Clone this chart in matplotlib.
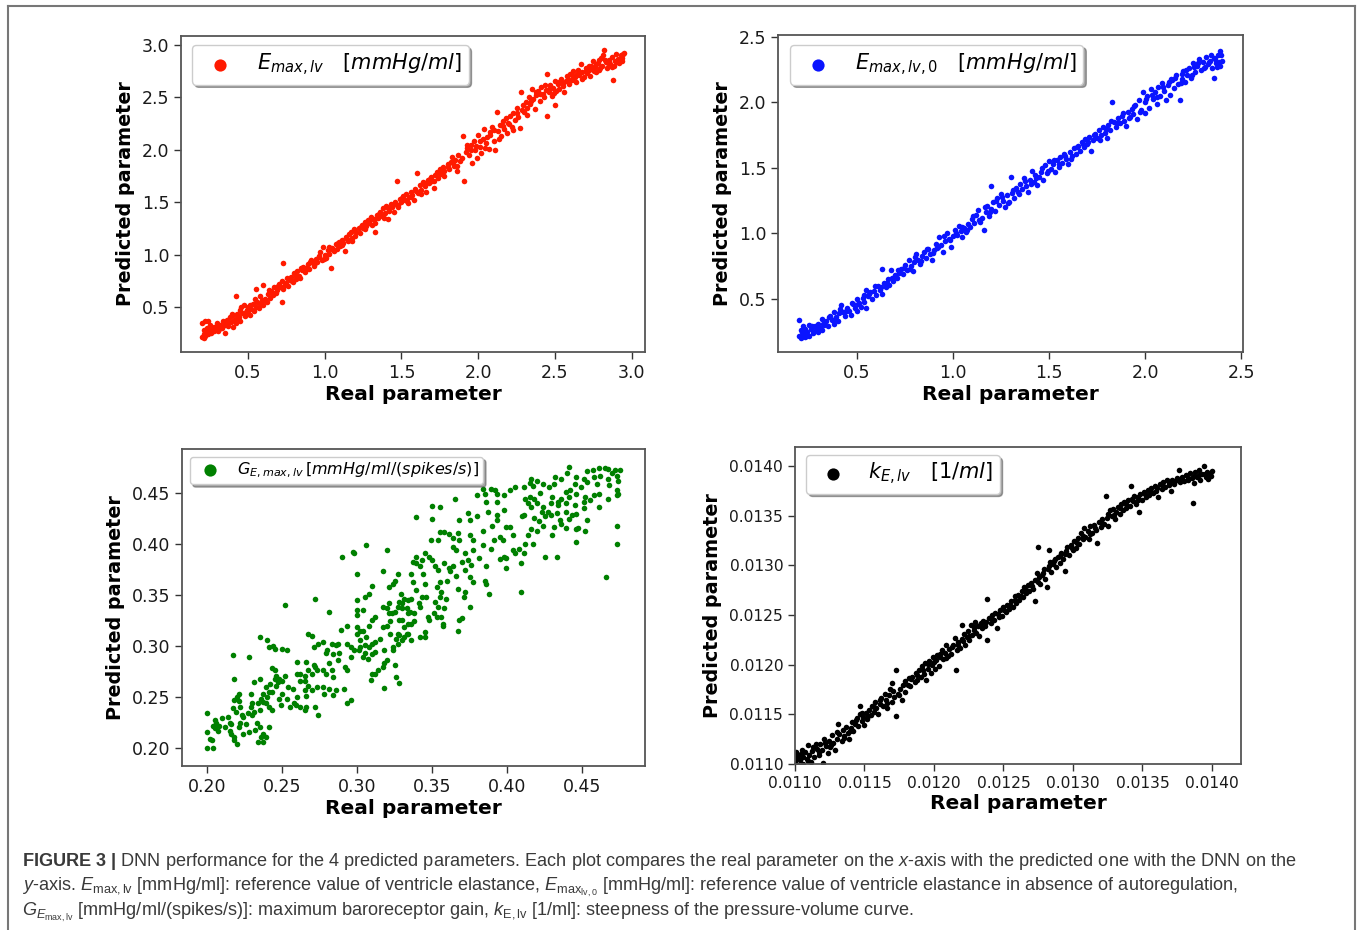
import matplotlib
matplotlib.use("Agg")
import matplotlib.pyplot as plt
from matplotlib.ticker import FormatStrFormatter, FixedLocator
from matplotlib.lines import Line2D

plt.rcParams['mathtext.rm'] = 'Liberation Sans'
plt.rcParams['mathtext.it'] = 'Liberation Sans:italic'
plt.rcParams['mathtext.bf'] = 'Liberation Sans:bold'

# ---------------- Panel 1: E_max,lv ----------------
emax_real = [
    0.20,0.20,0.21,0.21,0.22,0.22,0.23,0.23,0.24,0.24,
    0.25,0.25,0.26,0.27,0.28,0.29,0.30,0.31,0.32,0.33,
    0.34,0.35,0.35,0.36,0.37,0.38,0.39,0.40,0.40,0.41,
    0.42,0.42,0.43,0.44,0.45,0.45,0.46,0.47,0.48,0.49,
    0.50,0.50,0.51,0.52,0.53,0.54,0.55,0.55,0.56,0.57,
    0.58,0.59,0.60,0.60,0.61,0.62,0.63,0.64,0.65,0.66,
    0.67,0.68,0.69,0.70,0.71,0.72,0.72,0.73,0.73,0.74,
    0.75,0.76,0.77,0.78,0.79,0.80,0.81,0.82,0.83,0.84,
    0.85,0.86,0.87,0.88,0.89,0.90,0.91,0.92,0.93,0.94,
    0.95,0.96,0.97,0.98,0.99,1.00,1.01,1.02,1.03,1.04,
    1.05,1.06,1.07,1.08,1.09,1.10,1.11,1.12,1.13,1.14,
    1.15,1.16,1.17,1.18,1.19,1.20,1.22,1.23,1.24,1.25,
    1.26,1.27,1.28,1.29,1.30,1.31,1.32,1.33,1.34,1.35,
    1.36,1.37,1.38,1.39,1.40,1.41,1.42,1.43,1.44,1.45,
    1.46,1.47,1.48,1.49,1.50,1.51,1.52,1.53,1.54,1.55,
    1.56,1.57,1.58,1.59,1.60,1.61,1.62,1.63,1.64,1.65,
    1.66,1.67,1.68,1.69,1.70,1.71,1.72,1.73,1.74,1.75,
    1.76,1.77,1.78,1.80,1.81,1.82,1.83,1.84,1.85,1.86,
    1.87,1.88,1.90,1.91,1.92,1.93,1.94,1.95,1.96,1.97,
    1.98,1.99,2.00,2.01,2.02,2.03,2.04,2.05,2.06,2.07,
    2.08,2.09,2.10,2.11,2.12,2.13,2.14,2.15,2.16,2.17,
    2.18,2.19,2.20,2.21,2.22,2.23,2.24,2.25,2.26,2.27,
    2.28,2.29,2.30,2.31,2.32,2.33,2.34,2.35,2.36,2.37,
    2.38,2.39,2.40,2.41,2.42,2.43,2.44,2.45,2.45,2.46,
    2.47,2.48,2.49,2.50,2.50,2.51,2.52,2.53,2.54,2.55,
    2.56,2.57,2.58,2.59,2.60,2.61,2.62,2.63,2.64,2.65,
    2.66,2.67,2.68,2.69,2.70,2.71,2.72,2.73,2.74,2.75,
    2.76,2.77,2.78,2.79,2.80,2.81,2.82,2.83,2.84,2.85,
    2.86,2.87,2.88,2.89,2.90,2.91,2.92,2.93,2.94,2.95,
    0.215,0.245,0.275,0.305,0.335,0.365,0.395,0.425,0.455,0.485,
    0.515,0.545,0.575,0.605,0.635,0.665,0.695,0.725,0.755,0.785,
    0.815,0.845,0.875,0.905,0.935,0.965,0.995,1.025,1.055,1.085,
    1.115,1.145,1.175,1.205,1.235,1.265,1.295,1.325,1.355,1.385,
    1.415,1.445,1.475,1.505,1.535,1.565,1.595,1.625,1.655,1.685,
    1.715,1.745,1.775,1.805,1.835,1.865,1.895,1.925,1.955,1.985,
    2.015,2.045,2.075,2.105,2.135,2.165,2.195,2.225,2.255,2.285,
    2.315,2.345,2.375,2.405,2.435,2.465,2.495,2.525,2.555,2.585,
    2.615,2.645,2.675,2.705,2.735,2.765,2.795,2.825,2.855,2.885,
    2.915,2.935,2.945,2.905,2.875,2.845,2.815,2.785,2.755,2.725,
]
emax_pred = [
    0.21,0.35,0.24,0.28,0.22,0.37,0.26,0.30,0.24,0.37,
    0.27,0.33,0.25,0.29,0.27,0.31,0.35,0.29,0.33,0.30,
    0.36,0.25,0.33,0.38,0.32,0.40,0.36,0.31,0.42,0.38,
    0.60,0.35,0.43,0.40,0.37,0.47,0.44,0.52,0.41,0.47,
    0.50,0.44,0.42,0.48,0.53,0.46,0.67,0.50,0.55,0.49,
    0.53,0.57,0.71,0.52,0.58,0.55,0.62,0.59,0.65,0.61,
    0.69,0.63,0.66,0.72,0.69,0.55,0.75,0.92,0.67,0.71,
    0.73,0.70,0.76,0.79,0.74,0.82,0.77,0.84,0.80,0.78,
    0.85,0.88,0.83,0.87,0.91,0.86,0.95,0.92,0.89,0.96,
    0.93,0.98,1.02,0.95,1.07,1.00,0.97,1.04,1.01,0.87,
    1.06,1.03,1.10,1.05,1.12,1.08,1.14,1.11,1.03,1.17,
    1.13,1.20,1.22,1.16,1.24,1.18,1.25,1.21,1.28,1.25,
    1.31,1.27,1.33,1.30,1.36,1.28,1.34,1.22,1.38,1.35,
    1.41,1.37,1.44,1.40,1.46,1.34,1.42,1.48,1.45,1.41,
    1.50,1.70,1.47,1.53,1.50,1.56,1.52,1.58,1.49,1.55,
    1.60,1.57,1.52,1.63,1.78,1.59,1.66,1.62,1.69,1.65,
    1.60,1.71,1.68,1.74,1.70,1.64,1.76,1.79,1.73,1.82,
    1.77,1.84,1.80,1.86,1.82,1.88,1.93,1.85,1.90,1.80,
    1.95,1.89,2.13,1.70,1.98,2.02,1.95,2.05,1.87,2.08,
    2.00,1.92,2.14,2.03,1.97,2.10,2.20,2.06,2.12,2.01,
    2.17,2.22,2.08,2.00,2.36,2.18,2.24,2.13,2.27,2.20,
    2.30,2.16,2.25,2.32,2.22,2.35,2.28,2.40,2.31,2.21,
    2.55,2.43,2.36,2.46,2.40,2.50,2.44,2.58,2.48,2.39,
    2.52,2.56,2.47,2.60,2.53,2.50,2.57,2.32,2.72,2.55,
    2.62,2.51,2.59,2.66,2.43,2.56,2.63,2.58,2.68,2.61,
    2.55,2.66,2.70,2.63,2.72,2.67,2.75,2.69,2.65,2.76,
    2.71,2.82,2.74,2.69,2.78,2.73,2.80,2.70,2.77,2.85,
    2.79,2.74,2.83,2.76,2.88,2.80,2.95,2.84,2.78,2.86,
    2.82,2.89,2.67,2.85,2.91,2.87,2.83,2.90,2.88,2.92,
    0.20,0.29,0.31,0.27,0.37,0.35,0.43,0.39,0.50,0.45,
    0.52,0.58,0.60,0.57,0.66,0.63,0.70,0.69,0.78,0.75,
    0.80,0.87,0.86,0.93,0.92,0.99,0.96,1.07,1.04,1.11,
    1.09,1.15,1.13,1.22,1.26,1.24,1.33,1.30,1.39,1.35,
    1.44,1.47,1.45,1.54,1.51,1.55,1.61,1.58,1.68,1.72,
    1.70,1.78,1.75,1.84,1.87,1.85,1.92,2.05,2.00,2.04,
    2.08,2.02,2.14,2.19,2.10,2.23,2.26,2.19,2.35,2.38,
    2.33,2.47,2.55,2.53,2.62,2.59,2.54,2.65,2.64,2.68,
    2.70,2.72,2.68,2.75,2.80,2.82,2.78,2.86,2.84,2.80,
    2.86,2.85,2.91,2.84,2.79,2.83,2.90,2.86,2.75,2.76,
]

# ---------------- Panel 2: E_max,lv,0 ----------------
emax0_real = [
    0.20,0.20,0.21,0.21,0.22,0.22,0.23,0.23,0.24,0.25,
    0.25,0.26,0.27,0.28,0.29,0.30,0.30,0.31,0.32,0.32,
    0.33,0.34,0.35,0.36,0.37,0.38,0.38,0.39,0.40,0.41,
    0.42,0.43,0.44,0.45,0.46,0.47,0.48,0.49,0.50,0.50,
    0.51,0.52,0.53,0.54,0.55,0.55,0.56,0.57,0.58,0.59,
    0.60,0.61,0.62,0.63,0.63,0.64,0.65,0.66,0.67,0.68,
    0.69,0.70,0.71,0.72,0.73,0.74,0.75,0.76,0.77,0.78,
    0.79,0.80,0.81,0.82,0.83,0.84,0.85,0.86,0.87,0.88,
    0.89,0.90,0.91,0.92,0.93,0.94,0.95,0.96,0.97,0.98,
    0.99,1.00,1.01,1.02,1.03,1.04,1.05,1.06,1.07,1.08,
    1.09,1.10,1.11,1.12,1.13,1.14,1.15,1.16,1.17,1.18,
    1.19,1.20,1.20,1.21,1.22,1.23,1.24,1.25,1.26,1.27,
    1.28,1.29,1.30,1.31,1.32,1.33,1.34,1.35,1.36,1.37,
    1.38,1.39,1.40,1.41,1.42,1.43,1.44,1.45,1.46,1.47,
    1.48,1.49,1.50,1.51,1.52,1.53,1.54,1.55,1.56,1.57,
    1.58,1.59,1.60,1.61,1.62,1.63,1.64,1.65,1.66,1.67,
    1.68,1.69,1.70,1.71,1.72,1.73,1.74,1.75,1.76,1.77,
    1.78,1.79,1.80,1.81,1.82,1.83,1.84,1.85,1.86,1.87,
    1.88,1.89,1.90,1.91,1.92,1.93,1.94,1.95,1.96,1.97,
    1.98,1.99,2.00,2.00,2.01,2.02,2.03,2.04,2.05,2.06,
    2.07,2.08,2.09,2.10,2.11,2.12,2.13,2.14,2.15,2.16,
    2.17,2.18,2.19,2.20,2.21,2.22,2.23,2.24,2.25,2.26,
    2.27,2.28,2.29,2.30,2.31,2.32,2.33,2.34,2.35,2.36,
    2.36,2.37,2.38,2.39,2.39,2.40,
    0.215,0.235,0.265,0.295,0.325,0.355,0.385,0.415,0.445,0.475,
    0.505,0.535,0.565,0.595,0.625,0.655,0.685,0.715,0.745,0.775,
    0.805,0.835,0.865,0.895,0.925,0.955,0.985,1.015,1.045,1.075,
    1.105,1.135,1.165,1.195,1.225,1.255,1.285,1.315,1.345,1.375,
    1.405,1.435,1.465,1.495,1.525,1.555,1.585,1.615,1.645,1.675,
    1.705,1.735,1.765,1.795,1.825,1.855,1.885,1.915,1.945,1.975,
    2.005,2.035,2.065,2.095,2.125,2.155,2.185,2.215,2.245,2.275,
    2.305,2.335,2.365,2.385,2.395,2.375,2.345,2.255,2.195,2.135,
]
emax0_pred = [
    0.22,0.34,0.20,0.26,0.23,0.29,0.21,0.27,0.25,0.30,
    0.22,0.27,0.24,0.29,0.26,0.25,0.31,0.28,0.35,0.26,
    0.30,0.33,0.29,0.37,0.34,0.40,0.31,0.36,0.33,0.39,
    0.45,0.40,0.37,0.43,0.41,0.38,0.46,0.43,0.50,0.41,
    0.47,0.44,0.51,0.48,0.57,0.43,0.52,0.55,0.50,0.56,
    0.53,0.60,0.57,0.73,0.54,0.62,0.59,0.65,0.61,0.72,
    0.64,0.68,0.66,0.70,0.73,0.69,0.76,0.72,0.80,0.75,
    0.71,0.78,0.84,0.80,0.77,0.83,0.86,0.81,0.88,0.84,
    0.80,0.87,0.92,0.89,0.97,0.91,0.86,0.94,1.00,0.96,
    0.90,0.98,1.03,0.99,1.06,1.02,0.97,1.04,1.01,1.07,
    1.05,1.11,1.08,1.14,1.18,1.09,1.12,1.03,1.16,1.21,
    1.13,1.36,1.19,1.24,1.17,1.27,1.22,1.30,1.25,1.20,
    1.29,1.24,1.43,1.31,1.27,1.35,1.32,1.38,1.34,1.42,
    1.36,1.32,1.41,1.48,1.39,1.45,1.37,1.43,1.47,1.41,
    1.52,1.46,1.55,1.49,1.53,1.47,1.56,1.51,1.58,1.54,
    1.61,1.57,1.53,1.62,1.59,1.65,1.61,1.67,1.63,1.70,
    1.66,1.72,1.68,1.74,1.63,1.71,1.76,1.73,1.79,1.75,
    1.81,1.77,1.73,1.83,1.79,2.00,1.85,1.81,1.88,1.84,
    1.90,1.86,1.82,1.93,1.89,1.95,1.91,1.98,1.87,2.02,
    1.94,2.08,2.00,1.92,2.05,1.96,2.10,2.03,2.08,1.99,
    2.12,2.05,2.15,2.09,2.02,2.13,2.06,2.17,2.11,2.21,
    2.14,2.02,2.18,2.24,2.16,2.21,2.26,2.19,2.30,2.23,
    2.28,2.33,2.25,2.31,2.27,2.35,2.29,2.32,2.26,2.19,
    2.34,2.30,2.36,2.39,2.28,2.32,
    0.25,0.22,0.29,0.28,0.31,0.36,0.35,0.42,0.41,0.47,
    0.46,0.53,0.54,0.60,0.59,0.62,0.66,0.72,0.74,0.73,
    0.82,0.79,0.88,0.85,0.90,0.98,0.95,1.00,1.05,1.03,
    1.13,1.10,1.20,1.16,1.25,1.28,1.23,1.33,1.30,1.40,
    1.38,1.42,1.50,1.48,1.56,1.53,1.59,1.57,1.66,1.68,
    1.70,1.75,1.71,1.80,1.86,1.84,1.92,1.88,1.97,1.93,
    2.03,2.06,2.04,2.12,2.16,2.19,2.15,2.25,2.21,2.30,
    2.26,2.31,2.33,2.31,2.36,2.27,2.36,2.27,2.22,2.18,
]

# ---------------- Panel 3: G_E,max,lv ----------------
gain_real = [
    0.441,0.440,0.453,0.457,0.461,0.465,0.467,0.472,0.475,0.473,
    0.470,0.462,0.458,0.451,0.446,0.436,0.416,0.432,0.474,0.468,
    0.467,0.460,0.453,0.449,0.445,0.442,0.439,0.431,0.428,0.424,
    0.422,0.417,0.411,0.405,0.402,0.398,0.392,0.384,0.473,0.474,
    0.461,0.458,0.452,0.446,0.441,0.436,0.430,0.415,0.418,0.412,
    0.414,0.420,0.424,0.429,0.434,0.439,0.445,0.451,0.455,0.461,
    0.467,0.473,0.423,0.427,0.433,0.439,0.443,0.451,0.416,0.411,
    0.418,0.425,0.435,0.441,0.446,0.453,0.434,0.429,0.421,0.436,
    0.447,0.439,0.431,0.424,0.420,0.416,0.414,0.430,0.446,0.452,
    0.473,0.473,0.446,0.425,0.433,0.466,
    0.385,0.380,0.389,0.393,0.386,0.393,0.398,0.393,0.387,0.380,
    0.374,0.368,0.375,0.375,0.384,0.390,0.393,0.391,0.397,0.404,
    0.389,0.384,0.377,0.377,0.372,0.374,0.376,0.370,0.372,0.381,
    0.386,0.395,0.399,0.404,0.405,0.408,0.409,0.411,0.412,0.417,
    0.410,0.402,0.399,0.420,0.415,0.375,0.377,0.385,0.386,0.388,
    0.372,0.371,0.367,0.375,0.368,0.370,0.367,0.398,0.395,0.409,
    0.365,0.355,0.350,0.349,0.348,0.350,0.352,0.354,0.358,0.361,
    0.364,0.362,0.366,0.360,0.355,0.353,0.356,0.359,0.358,0.356,
    0.353,0.351,0.357,0.357,0.354,0.352,0.355,0.346,0.345,0.344,
    0.342,0.339,0.336,0.337,0.339,0.336,0.334,0.338,0.341,0.342,
    0.343,0.347,0.348,0.345,0.342,0.345,0.354,0.355,0.358,0.361,
    0.364,0.367,0.368,0.366,0.364,0.345,0.343,0.339,0.337,0.334,
    0.331,0.330,0.333,0.335,0.338,0.334,0.331,0.336,0.336,0.333,
    0.330,0.328,0.327,0.325,0.329,0.330,0.328,0.323,0.320,0.322,
    0.327,0.331,0.334,0.326,0.330,0.327,0.324,
    0.327,0.325,0.324,0.321,0.317,0.320,0.306,0.300,0.298,0.310,
    0.308,0.305,0.300,0.300,0.304,0.300,0.300,0.300,0.302,0.304,
    0.308,0.310,0.312,0.317,0.321,0.321,0.320,0.317,0.322,0.328,
    0.315,0.312,0.306,0.310,0.308,0.305,0.302,0.301,0.304,0.307,
    0.305,0.312,0.318,0.324,0.318,0.317,0.314,0.312,0.310,0.309,
    0.318,0.325,0.326,0.328,0.320,0.310,
    0.297,0.289,0.281,0.272,0.270,0.267,0.271,0.274,0.277,0.279,
    0.283,0.280,0.286,0.287,0.293,0.296,0.298,0.302,0.296,0.292,
    0.293,0.288,0.287,0.284,0.281,0.283,0.277,0.273,0.272,0.271,
    0.270,0.267,0.265,0.262,0.265,0.267,0.265,0.270,0.266,0.273,
    0.277,0.279,0.284,0.281,0.278,0.284,0.286,0.272,0.274,0.266,
    0.265,0.262,0.259,0.258,0.255,0.253,0.250,0.248,0.249,0.254,
    0.257,0.252,0.250,0.248,0.247,0.246,0.242,0.243,0.241,0.240,
    0.237,0.236,0.234,0.239,0.241,0.245,0.250,0.253,0.241,0.246,
    0.260,0.260,0.266,0.260,0.262,0.293,0.296,0.293,0.291,0.252,
    0.290,0.339,0.350,0.399,
    0.200,0.204,0.205,0.206,0.205,0.207,0.200,0.202,0.203,0.200,
    0.204,0.208,0.210,0.214,0.215,0.216,0.212,0.215,0.216,0.218,
    0.218,0.220,0.221,0.222,0.223,0.219,0.217,0.218,0.220,0.221,
    0.221,0.218,0.217,0.222,0.224,0.226,0.228,0.224,0.229,0.230,
    0.231,0.233,0.235,0.237,0.239,0.236,0.237,0.234,0.230,0.229,
    0.228,0.231,0.235,0.239,0.237,0.235,0.235,0.240,0.244,0.243,
    0.245,0.245,0.227,0.232,0.241,0.243,
]
gain_pred = [
    0.475,0.469,0.471,0.472,0.474,0.474,0.473,0.472,0.472,0.467,
    0.469,0.467,0.466,0.464,0.466,0.464,0.464,0.466,0.462,0.458,
    0.464,0.459,0.461,0.456,0.459,0.453,0.451,0.459,0.456,0.459,
    0.450,0.457,0.456,0.456,0.453,0.448,0.453,0.454,0.453,0.449,
    0.449,0.448,0.446,0.449,0.446,0.444,0.446,0.446,0.444,0.444,
    0.440,0.440,0.436,0.440,0.441,0.440,0.438,0.441,0.443,0.436,
    0.444,0.448,0.431,0.431,0.430,0.431,0.428,0.435,0.436,0.428,
    0.425,0.427,0.423,0.424,0.429,0.423,0.438,0.428,0.422,0.420,
    0.416,0.416,0.417,0.418,0.413,0.415,0.409,0.409,0.415,0.413,
    0.418,0.400,0.402,0.387,0.387,0.368,
    0.449,0.448,0.454,0.449,0.441,0.441,0.433,0.428,0.431,0.427,
    0.430,0.423,0.423,0.409,0.413,0.418,0.423,0.404,0.404,0.409,
    0.395,0.399,0.404,0.394,0.391,0.384,0.379,0.382,0.374,0.386,
    0.378,0.385,0.386,0.394,0.391,0.395,0.381,0.391,0.400,0.400,
    0.427,0.417,0.417,0.462,0.460,0.368,0.363,0.364,0.361,0.351,
    0.353,0.348,0.356,0.338,0.325,0.327,0.315,0.387,0.407,0.353,
    0.444,0.436,0.424,0.404,0.387,0.384,0.378,0.374,0.381,0.376,
    0.378,0.373,0.369,0.364,0.363,0.358,0.353,0.346,0.337,0.328,
    0.328,0.332,0.322,0.320,0.338,0.343,0.348,0.348,0.361,0.371,
    0.378,0.381,0.371,0.363,0.355,0.346,0.332,0.332,0.342,0.338,
    0.348,0.328,0.325,0.314,0.309,0.309,0.404,0.412,0.412,0.410,
    0.406,0.411,0.404,0.394,0.397,0.391,0.384,0.387,0.382,0.345,
    0.346,0.342,0.337,0.333,0.324,0.322,0.319,0.306,0.322,0.312,
    0.325,0.325,0.338,0.333,0.351,0.337,0.343,0.332,0.337,0.324,
    0.312,0.309,0.312,0.307,0.306,0.302,0.299,
    0.371,0.364,0.361,0.358,0.373,0.394,0.399,0.371,0.391,0.359,
    0.351,0.348,0.345,0.335,0.335,0.330,0.319,0.312,0.315,0.315,
    0.320,0.325,0.328,0.338,0.342,0.332,0.320,0.319,0.312,0.311,
    0.307,0.304,0.309,0.302,0.299,0.301,0.299,0.296,0.289,0.287,
    0.293,0.294,0.296,0.296,0.283,0.279,0.276,0.273,0.273,0.267,
    0.259,0.281,0.270,0.264,0.286,0.292,
    0.392,0.316,0.333,0.346,0.310,0.312,0.299,0.302,0.304,0.293,
    0.302,0.296,0.301,0.302,0.302,0.299,0.296,0.306,0.289,0.279,
    0.276,0.293,0.286,0.292,0.283,0.276,0.276,0.276,0.279,0.281,
    0.273,0.276,0.271,0.273,0.266,0.261,0.257,0.257,0.251,0.260,
    0.260,0.273,0.270,0.258,0.253,0.252,0.257,0.240,0.232,0.240,
    0.237,0.240,0.242,0.244,0.240,0.248,0.253,0.248,0.242,0.260,
    0.258,0.271,0.266,0.268,0.265,0.261,0.263,0.255,0.255,0.250,
    0.253,0.248,0.244,0.244,0.240,0.297,0.297,0.296,0.299,0.271,
    0.250,0.284,0.284,0.273,0.266,0.320,0.247,0.244,0.258,0.340,
    0.387,0.426,0.437,0.376,
    0.234,0.222,0.227,0.225,0.220,0.217,0.216,0.209,0.208,0.200,
    0.200,0.222,0.229,0.230,0.225,0.224,0.221,0.217,0.214,0.211,
    0.208,0.204,0.221,0.225,0.232,0.235,0.239,0.247,0.250,0.246,
    0.253,0.268,0.291,0.240,0.230,0.224,0.216,0.214,0.240,0.244,
    0.235,0.225,0.221,0.214,0.211,0.211,0.206,0.206,0.232,0.253,
    0.289,0.265,0.268,0.260,0.245,0.237,0.309,0.306,0.300,0.278,
    0.276,0.268,0.234,0.218,0.221,0.237,
]

# ---------------- Panel 4: k_E,lv ----------------
k_real = [
    0.011000,0.011005,0.011010,0.011020,0.011025,0.011035,0.011045,0.011055,0.011060,0.011075,
    0.011085,0.011095,0.011100,0.011115,0.011125,0.011135,0.011150,0.011160,0.011170,0.011180,
    0.011195,0.011200,0.011210,0.011220,0.011235,0.011245,0.011255,0.011265,0.011275,0.011285,
    0.011300,0.011310,0.011320,0.011335,0.011345,0.011355,0.011370,0.011380,0.011390,0.011400,
    0.011410,0.011420,0.011435,0.011445,0.011455,0.011465,0.011470,0.011480,0.011490,0.011500,
    0.011510,0.011520,0.011530,0.011545,0.011555,0.011565,0.011575,0.011585,0.011600,0.011610,
    0.011620,0.011630,0.011645,0.011655,0.011665,0.011675,0.011685,0.011695,0.011700,0.011710,
    0.011725,0.011730,0.011740,0.011755,0.011770,0.011780,0.011795,0.011810,0.011820,0.011830,
    0.011845,0.011860,0.011870,0.011880,0.011895,0.011905,0.011915,0.011925,0.011935,0.011945,
    0.011955,0.011965,0.011975,0.011985,0.011995,0.012005,0.012015,0.012025,0.012035,0.012045,
    0.012055,0.012065,0.012080,0.012090,0.012100,0.012110,0.012125,0.012140,0.012150,0.012160,
    0.012165,0.012175,0.012190,0.012200,0.012205,0.012215,0.012225,0.012235,0.012245,0.012255,
    0.012265,0.012275,0.012285,0.012295,0.012305,0.012315,0.012325,0.012335,0.012345,0.012355,
    0.012370,0.012380,0.012385,0.012395,0.012410,0.012420,0.012430,0.012440,0.012455,0.012465,
    0.012475,0.012490,0.012500,0.012515,0.012525,0.012540,0.012555,0.012565,0.012580,0.012590,
    0.012605,0.012615,0.012630,0.012640,0.012650,0.012660,0.012675,0.012685,0.012695,0.012710,
    0.012725,0.012730,0.012740,0.012750,0.012755,0.012765,0.012775,0.012790,0.012800,0.012810,
    0.012820,0.012830,0.012835,0.012845,0.012855,0.012870,0.012880,0.012895,0.012905,0.012915,
    0.012930,0.012940,0.012950,0.012960,0.012975,0.012985,0.013000,0.013010,0.013020,0.013035,
    0.013045,0.013055,0.013070,0.013080,0.013090,0.013105,0.013115,0.013125,0.013140,0.013150,
    0.013165,0.013175,0.013185,0.013200,0.013210,0.013225,0.013235,0.013245,0.013255,0.013265,
    0.013280,0.013290,0.013300,0.013310,0.013325,0.013335,0.013345,0.013360,0.013370,0.013385,
    0.013395,0.013410,0.013420,0.013430,0.013440,0.013455,0.013465,0.013475,0.013485,0.013500,
    0.013510,0.013525,0.013540,0.013550,0.013565,0.013575,0.013590,0.013600,0.013615,0.013625,
    0.013640,0.013650,0.013665,0.013680,0.013690,0.013705,0.013715,0.013730,0.013745,0.013760,
    0.013770,0.013785,0.013800,0.013815,0.013830,0.013845,0.013855,0.013865,0.013870,0.013880,
    0.013895,0.013905,0.013915,0.013930,0.013945,0.013955,0.013965,0.013975,0.013985,0.013995,
    0.014000,
    0.011015,0.011050,0.011090,0.011130,0.011175,0.011215,0.011260,0.011305,0.011350,0.011395,
    0.011440,0.011485,0.011525,0.011570,0.011615,0.011660,0.011705,0.011750,0.011790,0.011835,
    0.011875,0.011920,0.011960,0.012000,0.012040,0.012085,0.012130,0.012170,0.012210,0.012250,
    0.012290,0.012330,0.012375,0.012415,0.012460,0.012505,0.012545,0.012585,0.012625,0.012665,
    0.012705,0.012745,0.012785,0.012825,0.012865,0.012905,0.012945,0.012990,0.013030,0.013075,
    0.013120,0.013160,0.013205,0.013250,0.013295,0.013340,0.013380,0.013425,0.013470,0.013515,
    0.013560,0.013605,0.013645,0.013690,0.013735,0.013780,0.013825,0.013870,0.013910,0.013950,
]
k_pred = [
    0.011030,0.011120,0.011060,0.010990,0.011080,0.011040,0.011100,0.011000,0.011070,0.011120,
    0.011050,0.011190,0.011090,0.011020,0.011130,0.011070,0.011200,0.011150,0.011090,0.011200,
    0.011140,0.011010,0.011250,0.011180,0.011110,0.011230,0.011170,0.011290,0.011210,0.011140,
    0.011250,0.011400,0.011300,0.011230,0.011340,0.011280,0.011370,0.011310,0.011250,0.011360,
    0.011420,0.011330,0.011400,0.011460,0.011380,0.011500,0.011580,0.011430,0.011470,0.011390,
    0.011510,0.011450,0.011540,0.011490,0.011580,0.011520,0.011620,0.011560,0.011500,0.011600,
    0.011660,0.011580,0.011700,0.011640,0.011560,0.011690,0.011750,0.011620,0.011820,0.011670,
    0.011950,0.011480,0.011700,0.011760,0.011640,0.011800,0.011720,0.011800,0.011870,0.011790,
    0.011880,0.011830,0.011920,0.011850,0.011950,0.011880,0.011990,0.011910,0.012020,0.011850,
    0.011960,0.012040,0.011920,0.012000,0.012080,0.011960,0.012050,0.012100,0.011990,0.012080,
    0.012150,0.012060,0.012120,0.012200,0.012090,0.012160,0.012110,0.012200,0.012270,0.011950,
    0.012150,0.012230,0.012170,0.012400,0.012260,0.012310,0.012200,0.012280,0.012340,0.012250,
    0.012400,0.012300,0.012380,0.012430,0.012320,0.012390,0.012290,0.012420,0.012370,0.012440,
    0.012390,0.012660,0.012250,0.012470,0.012420,0.012500,0.012450,0.012520,0.012370,0.012480,
    0.012550,0.012490,0.012580,0.012530,0.012600,0.012560,0.012640,0.012580,0.012690,0.012620,
    0.012700,0.012650,0.012740,0.012680,0.012780,0.012720,0.012800,0.012740,0.012820,0.012760,
    0.012640,0.012850,0.012920,0.013180,0.012880,0.012810,0.012900,0.012960,0.012860,0.012780,
    0.012960,0.013150,0.013030,0.012930,0.013010,0.013060,0.012980,0.013080,0.013020,0.013120,
    0.013060,0.012940,0.013140,0.013180,0.013100,0.013200,0.013150,0.013240,0.013170,0.013280,
    0.013210,0.013330,0.013260,0.013380,0.013290,0.013350,0.013260,0.013400,0.013330,0.013410,
    0.013360,0.013220,0.013440,0.013390,0.013470,0.013420,0.013700,0.013480,0.013400,0.013560,
    0.013500,0.013570,0.013470,0.013540,0.013590,0.013520,0.013620,0.013560,0.013640,0.013580,
    0.013660,0.013600,0.013800,0.013650,0.013700,0.013620,0.013690,0.013540,0.013720,0.013660,
    0.013740,0.013690,0.013760,0.013710,0.013780,0.013730,0.013800,0.013750,0.013690,0.013820,
    0.013770,0.013840,0.013790,0.013860,0.013810,0.013750,0.013860,0.013820,0.013880,0.013960,
    0.013840,0.013890,0.013850,0.013910,0.013860,0.013930,0.013880,0.013630,0.013830,0.013940,
    0.013890,0.013960,0.013860,0.013920,0.014000,0.013890,0.013940,0.013870,0.013920,0.013900,
    0.013950,
    0.011100,0.011140,0.011030,0.011170,0.011120,0.011210,0.011190,0.011320,0.011260,0.011330,
    0.011440,0.011510,0.011480,0.011570,0.011640,0.011610,0.011730,0.011690,0.011840,0.011860,
    0.011900,0.011950,0.012010,0.012030,0.012110,0.012070,0.012180,0.012200,0.012240,0.012290,
    0.012350,0.012400,0.012430,0.012460,0.012510,0.012550,0.012600,0.012650,0.012690,0.012750,
    0.012790,0.012830,0.012920,0.012990,0.013040,0.013090,0.013110,0.013170,0.013220,0.013300,
    0.013320,0.013380,0.013440,0.013520,0.013510,0.013580,0.013620,0.013670,0.013660,0.013720,
    0.013740,0.013780,0.013800,0.013830,0.013850,0.013870,0.013880,0.013900,0.013910,0.013920,
]

tick_p1 = [0.5, 1.0, 1.5, 2.0, 2.5, 3.0]
tick_p2 = [0.5, 1.0, 1.5, 2.0, 2.5]
tick_p3 = [0.20, 0.25, 0.30, 0.35, 0.40, 0.45]
tick_p4 = [0.0110, 0.0115, 0.0120, 0.0125, 0.0130, 0.0135, 0.0140]

labels = [r"$E_{max,lv}$   $[mmHg/ml]$",
          r"$E_{max,lv,0}$   $[mmHg/ml]$",
          r"$G_{E,max,lv}\,[mmHg/ml/(spikes/s)]$",
          r"$k_{E,lv}$   $[1/ml]$"]

W, H = 1358, 930
fig = plt.figure(figsize=(W / 100, H / 100), dpi=100)
fig.patch.set_facecolor('white')

def px_axes(l, t, r, b):
    return fig.add_axes([l / W, 1 - b / H, (r - l) / W, (b - t) / H])

panels = [
    dict(box=(181, 36, 645, 352), x=emax_real, y=emax_pred, c='#ff1a00',
         xlim=(0.0625, 3.0875), ylim=(0.07, 3.086), xt=tick_p1, yt=tick_p1, fmt='%.1f',
         tfs=12.5, lfs=15, leg=labels[0], lpos=(192, 45), htp=0.8, bp=0.32),
    dict(box=(778, 35, 1243, 352), x=emax0_real, y=emax0_pred, c='#0a14ff',
         xlim=(0.09, 2.51), ylim=(0.095, 2.515), xt=tick_p2, yt=tick_p2, fmt='%.1f',
         tfs=12.5, lfs=15, leg=labels[1], lpos=(790, 45), htp=0.8, bp=0.32),
    dict(box=(182, 449, 645, 766), x=gain_real, y=gain_pred, c='#008000',
         xlim=(0.1833, 0.492), ylim=(0.1824, 0.493), xt=tick_p3, yt=tick_p3, fmt='%.2f',
         tfs=12.5, lfs=11.5, leg=labels[2], lpos=(190, 457), htp=0.7, bp=0.25),
    dict(box=(795, 447, 1241, 764), x=k_real, y=k_pred, c='black',
         xlim=(0.0110, 0.014209), ylim=(0.0110, 0.014191), xt=tick_p4, yt=tick_p4, fmt='%.4f',
         tfs=11.2, lfs=15, leg=labels[3], lpos=(806, 455), htp=0.7, bp=0.3),
]

for p in panels:
    l, t, r, b = p['box']
    ax = px_axes(l, t, r, b)
    ax.scatter(p['x'], p['y'], s=16, c=p['c'], linewidths=0, label=p['leg'])
    ax.set_xlim(*p['xlim'])
    ax.set_ylim(*p['ylim'])
    ax.xaxis.set_major_locator(FixedLocator(p['xt']))
    ax.yaxis.set_major_locator(FixedLocator(p['yt']))
    ax.xaxis.set_major_formatter(FormatStrFormatter(p['fmt']))
    ax.yaxis.set_major_formatter(FormatStrFormatter(p['fmt']))
    ax.tick_params(labelsize=p['tfs'], length=5, width=1, color='#333333', labelcolor='#1a1a1a')
    for sp in ax.spines.values():
        sp.set_color('#555555')
        sp.set_linewidth(1.3)
    ax.set_xlabel('Real parameter', fontsize=14.5, fontweight='bold', labelpad=2)
    ax.set_ylabel('Predicted parameter', fontsize=13.8, fontweight='bold', labelpad=5)
    lx, ly = p['lpos']
    ax.legend(loc='upper left', bbox_to_anchor=((lx - l) / (r - l), 1 - (ly - t) / (b - t)),
              borderaxespad=0, fontsize=p['lfs'], markerscale=2.2, fancybox=True,
              shadow=True, handletextpad=p['htp'], borderpad=p['bp'], framealpha=1,
              edgecolor='#cccccc')

# outer frame of the figure page
fig.add_artist(Line2D([7.5 / W, 7.5 / W], [0, 1 - 6 / H], color='#777777', lw=1.5))
fig.add_artist(Line2D([7.5 / W, 1355 / W], [1 - 6 / H, 1 - 6 / H], color='#777777', lw=1.5))
fig.add_artist(Line2D([1355 / W, 1355 / W], [0, 1 - 6 / H], color='#777777', lw=1.5))

cap_lines = [
    r"$\mathbf{FIGURE\ 3\ |}$ DNN performance for the 4 predicted parameters. Each plot compares the real parameter on the $x$-axis with the predicted one with the DNN on the",
    r"$y$-axis. $E_{\mathrm{max,lv}}$ [mmHg/ml]: reference value of ventricle elastance, $E_{\mathrm{max}_{\mathrm{lv,0}}}$ [mmHg/ml]: reference value of ventricle elastance in absence of autoregulation,",
    r"$G_{E_{\mathrm{max,lv}}}$ [mmHg/ml/(spikes/s)]: maximum baroreceptor gain, $k_{\mathrm{E,lv}}$ [1/ml]: steepness of the pressure-volume curve.",
]
for ypx, line in zip([866, 891, 916], cap_lines):
    fig.text(22 / W, 1 - ypx / H, line, fontsize=13.1, family='Liberation Sans',
             color='#3a3a3a', math_fontfamily='custom', va='baseline', ha='left')

fig.savefig('out.png', dpi=100, facecolor='white')
